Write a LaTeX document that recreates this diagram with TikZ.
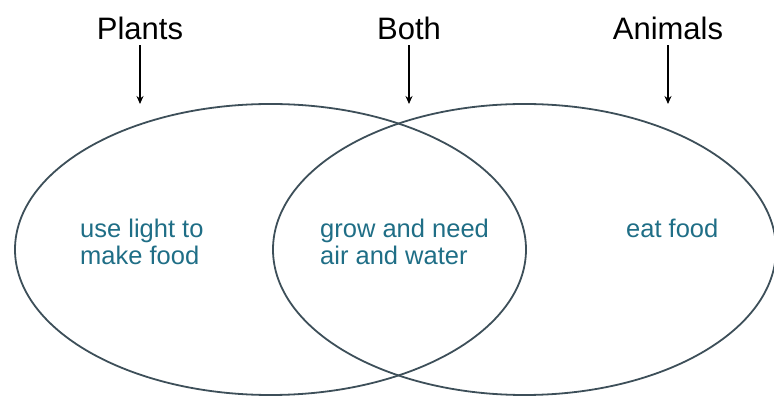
\documentclass[tikz,border=0pt]{standalone}
\usepackage{fontspec}
\setmainfont{Liberation Sans}
\usetikzlibrary{arrows.meta,positioning}
\definecolor{ringgray}{HTML}{3D4F59}
\definecolor{noteteal}{HTML}{1F6E86}

\begin{document}
\begin{tikzpicture}[
    x=1pt, y=1pt,
    ring/.style={draw=ringgray, line width=1.8pt},
    title/.style={font=\fontsize{31}{34}\selectfont, text=black, inner sep=0pt, anchor=base},
    note/.style={font=\fontsize{25.5}{27}\selectfont, text=noteteal, align=left, inner sep=0pt, anchor=base west},
    arr/.style={-{Stealth[length=8pt, width=7pt]}, line width=1.8pt, draw=black, shorten <=5pt}
]
  \useasboundingbox (0,0) rectangle (774,396);

  % the two sets
  \draw[ring] (270.5,146.5) ellipse [x radius=255.5, y radius=145.5];
  \draw[ring] (524.5,146.5) ellipse [x radius=251.5, y radius=145.5];

  % headings and their pointers
  \node[title] (plants)  at (140,356) {Plants};
  \node[title] (both)    at (409,356) {Both};
  \node[title] (animals) at (668,356) {Animals};

  \coordinate (plantsTip)  at (140,292);
  \coordinate (bothTip)    at (409,292);
  \coordinate (animalsTip) at (668,292);

  \draw[arr] (plants.south)  -- (plantsTip);
  \draw[arr] (both.south)    -- (bothTip);
  \draw[arr] (animals.south) -- (animalsTip);

  % contents (base = last line)
  \node[note] (plantNote)  at (80,131)  {use light to\\make food};
  \node[note] (bothNote)   at (320,131) {grow and need\\air and water};
  \node[note] (animalNote) at (626,158) {eat food};
\end{tikzpicture}
\end{document}
